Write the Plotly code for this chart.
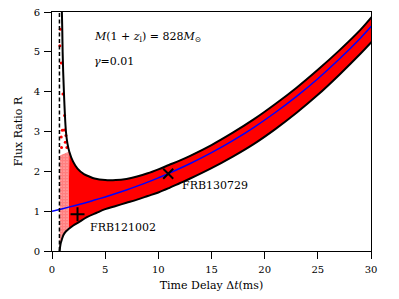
import plotly.graph_objects as go

# ---- data ----
blue_x = [0, 1.0, 2.0, 3.0, 4.0, 5.0, 6.0, 7.0, 8.0, 9.0, 10.0, 11.0, 13.0, 15.0, 17.0, 19.0, 21.0, 23.0, 25.0, 27.0, 29.0, 30.3]
blue_y = [1.0, 1.063, 1.13, 1.2, 1.278, 1.358, 1.443, 1.533, 1.629, 1.729, 1.837, 1.95, 2.196, 2.469, 2.772, 3.106, 3.477, 3.882, 4.325, 4.812, 5.343, 5.72]

upper_x = [0.93, 0.97, 1.0, 1.05, 1.12, 1.2, 1.31, 1.45, 1.62, 1.97, 2.4, 3.0, 3.5, 4.0, 5.0, 6.0, 7.0, 8.0, 9.0, 10.0, 11.0, 12.0, 13.0, 15.0, 17.0, 19.0, 21.0, 23.0, 25.0, 27.0, 29.0, 30.3]
upper_y = [6.0, 5.5, 5.0, 4.5, 4.0, 3.5, 3.0, 2.7, 2.5, 2.25, 2.07, 1.93, 1.87, 1.82, 1.78, 1.78, 1.81, 1.87, 1.95, 2.05, 2.16, 2.27, 2.39, 2.66, 2.97, 3.31, 3.69, 4.10, 4.55, 5.03, 5.55, 5.95]

lower_x = [0.72, 0.8, 0.94, 1.09, 1.3, 1.56, 2.0, 2.5, 3.28, 4.2, 5.0, 6.0, 7.0, 8.0, 9.0, 10.0, 11.0, 12.0, 13.0, 15.0, 17.0, 19.0, 21.0, 23.0, 25.0, 27.0, 29.0, 30.3]
lower_y = [0.0, 0.17, 0.3, 0.41, 0.49, 0.55, 0.64, 0.72, 0.85, 0.96, 1.05, 1.13, 1.21, 1.29, 1.38, 1.47, 1.58, 1.70, 1.82, 2.08, 2.37, 2.69, 3.06, 3.47, 3.92, 4.42, 4.95, 5.32]

dots_x = [0.78, 0.74, 0.87, 1.03, 1.18, 0.97, 1.15, 0.87, 1.31, 1.25, 0.9, 1.4]
dots_y = [5.57, 5.15, 4.72, 3.94, 3.4, 3.03, 3.04, 2.86, 2.9, 2.73, 2.6, 2.6]

caustic_x = 0.7
frb_names = ["FRB121002", "FRB130729"]
frb_x = [2.4, 10.93]
frb_y = [0.92, 1.94]
frb_symbols = ["cross-thin", "x-thin"]
label_x = [3.4, 12.0]
label_y = [0.6, 1.65]

x_ticks = [0, 5, 10, 15, 20, 25, 30]
y_ticks = [0, 1, 2, 3, 4, 5, 6]

FONT = "DejaVu Serif"
SPLIT = 1.9  # where the sparse (dotted) part of the band turns solid

fig = go.Figure()

# solid part of the red band
lo_r = [(x, y) for x, y in zip(lower_x, lower_y) if x >= SPLIT - 0.5]
up_r = [(x, y) for x, y in zip(upper_x, upper_y) if x >= SPLIT - 0.4]
poly_x = [p[0] for p in lo_r] + [p[0] for p in up_r[::-1]]
poly_y = [p[1] for p in lo_r] + [p[1] for p in up_r[::-1]]
fig.add_trace(go.Scatter(x=poly_x, y=poly_y, fill="toself", fillcolor="#ff0000",
                         line=dict(width=0), mode="lines", hoverinfo="skip", showlegend=False))

# sparse, dotted part near the caustic
lo_l = [(x, y) for x, y in zip(lower_x, lower_y) if x <= SPLIT]
up_l = [(x, y) for x, y in zip(upper_x, upper_y) if x <= SPLIT and y <= 2.6]
pl_x = [p[0] for p in lo_l] + [p[0] for p in up_l[::-1]] + [0.74]
pl_y = [p[1] for p in lo_l] + [p[1] for p in up_l[::-1]] + [2.4]
fig.add_trace(go.Scatter(x=pl_x, y=pl_y, fill="toself", fillcolor="rgba(0,0,0,0)",
                         fillpattern=dict(shape=".", fgcolor="#ff0000", bgcolor="white",
                                          size=3, solidity=0.85),
                         line=dict(width=0), mode="lines", hoverinfo="skip", showlegend=False))
fig.add_trace(go.Scatter(x=dots_x, y=dots_y, mode="markers",
                         marker=dict(color="#ff0000", size=3), showlegend=False))

# envelopes
fig.add_trace(go.Scatter(x=upper_x, y=upper_y, mode="lines", line=dict(color="black", width=2, shape="spline"), showlegend=False))
fig.add_trace(go.Scatter(x=lower_x, y=lower_y, mode="lines", line=dict(color="black", width=2, shape="spline"), showlegend=False))
# central curve
fig.add_trace(go.Scatter(x=blue_x, y=blue_y, mode="lines", line=dict(color="#0000ff", width=1.5, shape="spline"), showlegend=False))
# caustic line
fig.add_trace(go.Scatter(x=[caustic_x, caustic_x], y=[0, 6], mode="lines",
                         line=dict(color="black", width=1.5, dash="4px,2.5px"), showlegend=False))
# FRB markers
for nm, xx, yy, sym, lx, ly in zip(frb_names, frb_x, frb_y, frb_symbols, label_x, label_y):
    fig.add_trace(go.Scatter(x=[xx], y=[yy], mode="markers",
                             marker=dict(symbol=sym, size=10, line=dict(color="black", width=2)),
                             showlegend=False))
    fig.add_annotation(x=lx, y=ly, text=nm, showarrow=False, xanchor="left", yanchor="middle",
                       font=dict(family=FONT, size=11, color="black"))

fig.add_annotation(x=3.75, y=5.37, text="<i>M</i>(1 + <i>z</i><sub>l</sub>) = 828<i>M</i><sub>⊙</sub>",
                   showarrow=False, xanchor="left", yanchor="middle",
                   font=dict(family=FONT, size=11, color="black"))
fig.add_annotation(x=3.75, y=4.77, text="<i>γ</i>=0.01",
                   showarrow=False, xanchor="left", yanchor="middle",
                   font=dict(family=FONT, size=11, color="black"))

axis_common = dict(showgrid=False, zeroline=False, showline=True, mirror=True,
                   linecolor="black", linewidth=1, ticks="outside", ticklen=7,
                   tickwidth=1, tickcolor="black", automargin=False, ticklabelstandoff=2,
                   tickfont=dict(family=FONT, size=10, color="black"))
fig.update_xaxes(range=[0, 30], tickvals=x_ticks,
                 title=dict(text="Time Delay Δ<i>t</i>(ms)", font=dict(family=FONT, size=11, color="black"), standoff=7),
                 **axis_common)
fig.update_yaxes(range=[0, 6], tickvals=y_ticks,
                 title=dict(text="Flux Ratio R", font=dict(family=FONT, size=11, color="black"), standoff=8),
                 **axis_common)
fig.update_layout(width=399, height=299, margin=dict(l=52, r=28, t=12, b=48),
                  plot_bgcolor="white", paper_bgcolor="white")

fig.write_html("out.html", config={"displayModeBar": False},
               post_script="document.body.style.margin='0';")
